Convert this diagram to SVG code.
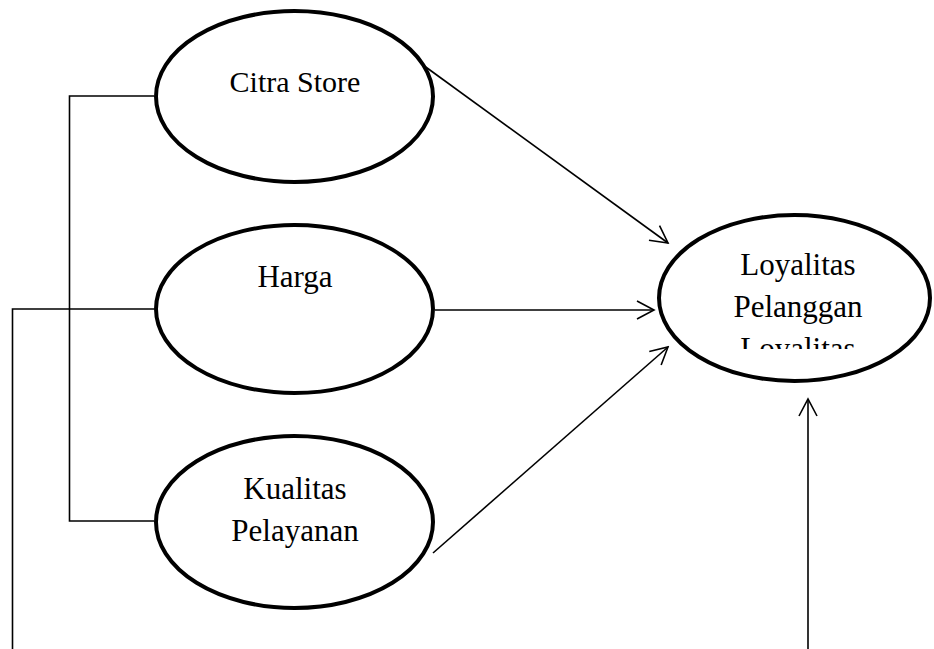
<svg xmlns="http://www.w3.org/2000/svg" width="934" height="649" viewBox="0 0 934 649">
<style>
.node ellipse{fill:#fff;stroke:#000;stroke-width:4}
text{font-family:"Liberation Serif","Times New Roman",serif;font-size:31px;fill:#000;text-anchor:middle}
.conn line,.conn polyline{stroke:#000;stroke-width:1.6;fill:none}
.head{stroke:#000;stroke-width:1.6;fill:none}
</style>
<defs>
<marker id="arr" viewBox="0 0 20 20" refX="18" refY="10" markerWidth="20" markerHeight="20" markerUnits="userSpaceOnUse" orient="auto">
<polyline points="1,1 18,10 1,19" class="head"/>
</marker>
<clipPath id="clipL"><rect x="650" y="200" width="290" height="149"/></clipPath>
</defs>
<rect width="934" height="649" fill="#fff"/>
<g class="conn">
<polyline points="154,96 69.5,96 69.5,521 154,521"/>
<polyline points="154,309 12.5,309 12.5,649"/>
<line x1="423" y1="65" x2="668" y2="243" marker-end="url(#arr)"/>
<line x1="435" y1="310" x2="654" y2="310" marker-end="url(#arr)"/>
<line x1="433" y1="553" x2="668" y2="347" marker-end="url(#arr)"/>
<line x1="808" y1="649" x2="808" y2="399" marker-end="url(#arr)"/>
</g>
<g id="citra" class="node">
<ellipse cx="294.5" cy="96.5" rx="138.5" ry="85.5"/>
<text x="295" y="92" style="font-size:30px">Citra Store</text>
</g>
<g id="harga" class="node">
<ellipse cx="294.5" cy="309" rx="138.5" ry="84"/>
<text x="295" y="287">Harga</text>
</g>
<g id="kualitas" class="node">
<ellipse cx="294.5" cy="522" rx="138.5" ry="86"/>
<text x="295" y="499">Kualitas</text>
<text x="295" y="541">Pelayanan</text>
</g>
<g id="loyalitas" class="node">
<ellipse cx="794.5" cy="298" rx="135.5" ry="83"/>
<g clip-path="url(#clipL)">
<text x="798" y="275">Loyalitas</text>
<text x="798" y="317">Pelanggan</text>
<text x="798" y="359">Loyalitas</text>
</g>
</g>
</svg>
